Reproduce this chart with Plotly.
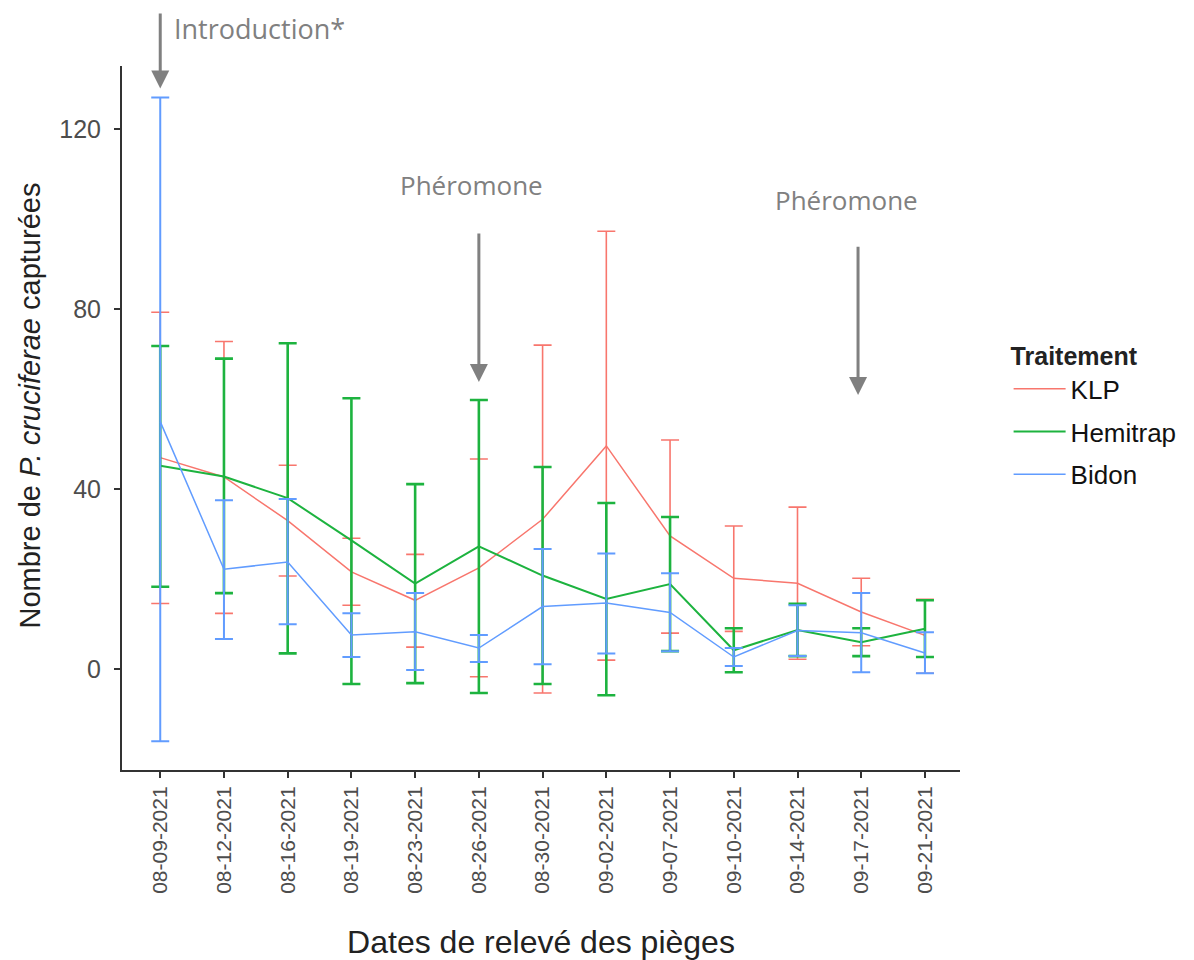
import plotly.graph_objects as go

dates = ["08-09-2021", "08-12-2021", "08-16-2021", "08-19-2021", "08-23-2021",
         "08-26-2021", "08-30-2021", "09-02-2021", "09-07-2021", "09-10-2021",
         "09-14-2021", "09-17-2021", "09-21-2021"]

klp_mean = [47.0, 42.7, 33.0, 21.6, 15.3, 22.5, 33.3, 49.6, 29.6, 20.2, 19.1, 12.7, 7.5]
klp_low = [14.6, 12.4, 20.7, 14.2, 4.9, -1.7, -5.3, 2.0, 8.0, 8.4, 2.2, 5.2, -0.9]
klp_up = [79.3, 72.8, 45.3, 29.1, 25.5, 46.7, 72.0, 97.3, 50.9, 31.8, 36.0, 20.2, 15.5]

hemi_mean = [45.2, 42.8, 38.0, 28.6, 19.0, 27.3, 20.8, 15.6, 18.9, 4.2, 8.7, 6.0, 9.0]
hemi_low = [18.3, 16.9, 3.5, -3.3, -3.1, -5.3, -3.3, -5.8, 4.0, -0.7, 2.9, 2.9, 2.7]
hemi_up = [71.8, 69.0, 72.4, 60.2, 41.1, 59.8, 44.9, 36.9, 33.8, 9.1, 14.5, 9.1, 15.3]

bidon_mean = [55.0, 22.2, 23.8, 7.6, 8.3, 4.7, 13.9, 14.7, 12.6, 2.7, 8.6, 8.1, 3.6]
bidon_low = [-16.0, 6.7, 10.0, 2.7, -0.2, 1.6, 1.1, 3.5, 4.0, 0.7, 2.9, -0.7, -0.9]
bidon_up = [127.0, 37.5, 37.8, 12.4, 16.9, 7.6, 26.7, 25.7, 21.3, 4.7, 14.2, 16.9, 8.2]

y_ticks = [0, 40, 80, 120]

series = [
    ("KLP", klp_mean, klp_low, klp_up, "#F8766D", 1.5, 1.6),
    ("Hemitrap", hemi_mean, hemi_low, hemi_up, "#1DB33F", 2.0, 2.6),
    ("Bidon", bidon_mean, bidon_low, bidon_up, "#619CFF", 1.5, 2.0),
]

xs = list(range(len(dates)))
fig = go.Figure()
for i, (name, m, lo, up, col, lw, ew) in enumerate(series):
    fig.add_trace(go.Scatter(
        x=xs, y=m, mode="lines", name=name,
        line=dict(color=col, width=lw),
        legendgroup=name,
        error_y=dict(type="data", symmetric=False,
                     array=[u - v for u, v in zip(up, m)],
                     arrayminus=[v - l for v, l in zip(m, lo)],
                     color=col, thickness=ew, width=9),
    ))

grey = "#808080"
ann_font = dict(family="Open Sans, sans-serif", size=26, color=grey)
arrows = [
    (0, 129.0, 0, 146.0),
    (5, 63.8, 5, 97.1),
    (10.95, 60.9, 10.95, 94.2),
]
for (x, y, ax, ay) in arrows:
    fig.add_annotation(x=x, y=y, ax=ax, ay=ay, xref="x", yref="y", axref="x", ayref="y",
                       showarrow=True, arrowhead=2, arrowsize=1.2, arrowwidth=3,
                       arrowcolor=grey, text="", standoff=0)

fig.add_annotation(x=0.0595, y=1.0526, xref="paper", yref="paper", text="Introduction*",
                   showarrow=False, xanchor="left", yanchor="middle",
                   font=dict(family="Open Sans, sans-serif", size=27, color=grey))
fig.add_annotation(x=4.88, y=107.6, xref="x", yref="y", text="Phéromone",
                   showarrow=False, xanchor="center", yanchor="middle", font=ann_font)
fig.add_annotation(x=10.77, y=104.2, xref="x", yref="y", text="Phéromone",
                   showarrow=False, xanchor="center", yanchor="middle", font=ann_font)

# y-axis title
fig.add_annotation(x=-0.1095, y=0.518, xref="paper", yref="paper",
                   text="Nombre de <i>P. cruciferae</i> capturées", textangle=-90,
                   showarrow=False, xanchor="center", yanchor="middle",
                   font=dict(family="Liberation Sans, Arial, sans-serif", size=29, color="#222222"))

axis_col = "#333333"
fig.update_layout(
    width=1194, height=960,
    margin=dict(l=122, r=232, t=66, b=190),
    paper_bgcolor="white", plot_bgcolor="white",
    font=dict(family="Liberation Sans, Arial, sans-serif", color="#222222"),
    showlegend=True,
    legend=dict(
        title=dict(text="<b>Traitement</b>", font=dict(size=25, color="#222222")),
        font=dict(size=26, color="#111111"),
        x=1.058, y=0.621, xanchor="left", yanchor="top",
        tracegroupgap=6, traceorder="grouped", itemwidth=52,
        bgcolor="rgba(0,0,0,0)",
    ),
    xaxis=dict(
        range=[-0.6, 12.55], automargin=False,
        tickmode="array", tickvals=xs, ticktext=dates, tickangle=-90,
        tickfont=dict(size=21, color="#4D4D4D"),
        showline=True, linecolor=axis_col, linewidth=2,
        ticks="outside", ticklen=6, tickwidth=1.5, tickcolor=axis_col,
        showgrid=False, zeroline=False,
        title=dict(text="Dates de relevé des pièges", font=dict(size=32, color="#222222"), standoff=38),
    ),
    yaxis=dict(
        range=[-22.4, 134], automargin=False,
        tickmode="array", tickvals=y_ticks,
        tickfont=dict(size=25, color="#4D4D4D"),
        ticklabelstandoff=8,
        showline=True, linecolor=axis_col, linewidth=2,
        ticks="outside", ticklen=6, tickwidth=1.5, tickcolor=axis_col,
        showgrid=False, zeroline=False,
    ),
)

fig.write_html("out.html")
